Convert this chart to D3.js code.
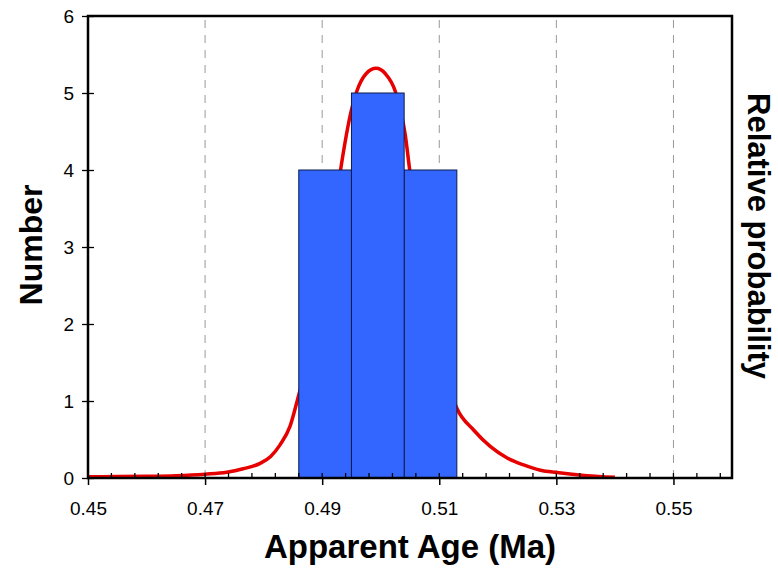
<!DOCTYPE html>
<html>
    <head>
        <meta charset="utf-8">
        <title>Apparent Age</title>
        <style>
body {
    margin: 0;
    background-color: white;
    font-family: 'Liberation Sans', Arial, sans-serif;
}
.tick text {
    font-size: 19px;
    fill: black;
}
.title {
    font-weight: bold;
    fill: black;
}
</style>
        <script src="https://cdn.jsdelivr.net/npm/d3@7"></script>
    </head>
    <body>
        <script>
// histogram bins (Ma) and counts
var binStart = [0.486, 0.495, 0.504];
var binEnd = [0.495, 0.504, 0.513];
var binCount = [4, 5, 4];

// relative probability curve (in "Number" units)
var curveAge = [0.450, 0.455, 0.460, 0.465, 0.470, 0.4737, 0.4765, 0.4794, 0.4812, 0.4828,
    0.4845, 0.486, 0.488, 0.490, 0.4915, 0.4932, 0.495, 0.4959, 0.4975, 0.4992,
    0.5008, 0.5025, 0.5042, 0.5049, 0.507, 0.509, 0.511, 0.513, 0.5159, 0.5187,
    0.5216, 0.5244, 0.5273, 0.5301, 0.5352, 0.540];
var curveProb = [0.015, 0.018, 0.022, 0.03, 0.05, 0.075, 0.12, 0.19, 0.28, 0.43,
    0.67, 1.08, 1.65, 2.35, 3.1, 4.03, 4.78, 5.02, 5.25, 5.32,
    5.25, 5.02, 4.45, 4.03, 2.9, 2.0, 1.35, 0.905, 0.62, 0.41,
    0.26, 0.17, 0.10, 0.07, 0.03, 0.01];

var xTicks = [0.45, 0.47, 0.49, 0.51, 0.53, 0.55];
var xMinor = d3.range(0, 28).map(function (i) { return +(0.45 + i * 0.004).toFixed(3); });
var yTicks = [0, 1, 2, 3, 4, 5, 6];

var width = 778,
    height = 569;
var margin = {top: 16, right: 46, bottom: 91, left: 88};

var svg = d3.select('body')
    .append('svg')
    .attr('width', width)
    .attr('height', height);

var x = d3.scaleLinear()
    .domain([0.45, 0.56])
    .range([margin.left, width - margin.right]);

var y = d3.scaleLinear()
    .domain([0, 6])
    .range([height - margin.bottom, margin.top]);

// dashed vertical grid
svg.append('g')
    .selectAll('line')
    .data(xTicks.slice(1))
    .enter().append('line')
    .attr('x1', function (d) { return x(d); })
    .attr('x2', function (d) { return x(d); })
    .attr('y1', y(0))
    .attr('y2', y(6))
    .style('stroke', '#999')
    .style('stroke-width', 1)
    .style('stroke-dasharray', '8,7');

// probability curve, under the bars
var line = d3.line()
    .x(function (d, i) { return x(curveAge[i]); })
    .y(function (d) { return y(d); })
    .curve(d3.curveMonotoneX);

svg.append('path')
    .datum(curveProb)
    .attr('d', line)
    .style('fill', 'none')
    .style('stroke', '#e60000')
    .style('stroke-width', 3.5);

// bars: side ones first, the middle one on top
var order = [0, 2, 1];
svg.append('g')
    .selectAll('rect')
    .data(order)
    .enter().append('rect')
    .attr('x', function (i) { return x(binStart[i]); })
    .attr('width', function (i) { return x(binEnd[i]) - x(binStart[i]); })
    .attr('y', function (i) { return y(binCount[i]); })
    .attr('height', function (i) { return y(0) - y(binCount[i]); })
    .style('fill', '#3366ff')
    .style('stroke', '#0d1a4d')
    .style('stroke-width', 1);

// axes
var xAxis = svg.append('g')
    .attr('transform', 'translate(0,' + y(0) + ')')
    .call(d3.axisBottom(x)
        .tickValues(xTicks)
        .tickFormat(d3.format('.2f'))
        .tickSize(7)
        .tickPadding(17));
xAxis.select('.domain').remove();
xAxis.selectAll('.tick line').style('stroke-width', 1.5);

svg.append('g')
    .selectAll('line')
    .data(xMinor)
    .enter().append('line')
    .attr('x1', function (d) { return x(d); })
    .attr('x2', function (d) { return x(d); })
    .attr('y1', y(0))
    .attr('y2', y(0) - 5)
    .style('stroke', 'black')
    .style('stroke-width', 1.3);

var yAxis = svg.append('g')
    .attr('transform', 'translate(' + x(0.45) + ',0)')
    .call(d3.axisLeft(y)
        .tickValues(yTicks)
        .tickFormat(d3.format('d'))
        .tickSize(6)
        .tickPadding(8));
yAxis.select('.domain').remove();
yAxis.selectAll('.tick line')
    .attr('x2', -6)
    .attr('x1', 6)
    .style('stroke-width', 1.3);

// frame
svg.append('rect')
    .attr('x', x(0.45))
    .attr('y', y(6))
    .attr('width', x(0.56) - x(0.45))
    .attr('height', y(0) - y(6))
    .style('fill', 'none')
    .style('stroke', 'black')
    .style('stroke-width', 2.5);

// titles
svg.append('text')
    .attr('class', 'title')
    .attr('x', 410)
    .attr('y', 558)
    .attr('text-anchor', 'middle')
    .style('font-size', '33px')
    .text('Apparent Age (Ma)');

svg.append('text')
    .attr('class', 'title')
    .attr('transform', 'translate(42,' + 245 + ') rotate(-90)')
    .attr('text-anchor', 'middle')
    .style('font-size', '32px')
    .text('Number');

svg.append('text')
    .attr('class', 'title')
    .attr('transform', 'translate(748,' + 236 + ') rotate(90)')
    .attr('text-anchor', 'middle')
    .style('font-size', '31px')
    .text('Relative probability');

        </script>
    </body>
</html>
